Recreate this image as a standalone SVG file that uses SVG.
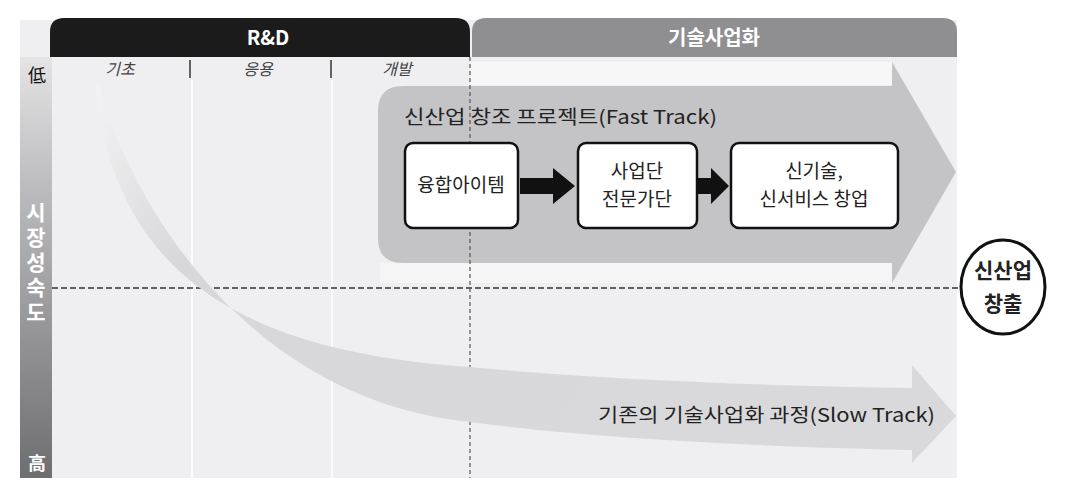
<svg xmlns="http://www.w3.org/2000/svg" width="1066" height="494" viewBox="0 0 1066 494">
<defs>
<style>
text{font-family:"Noto Sans CJK KR","Noto Sans",sans-serif;}
.hdr{fill:#fff;font-size:20px;font-weight:bold;text-anchor:middle;}
.col{fill:#444;font-size:16px;font-style:italic;text-anchor:middle;}
.axis{fill:#fff;font-size:21px;font-weight:bold;writing-mode:vertical-rl;letter-spacing:4px;}
.box{fill:#fff;stroke:#111;stroke-width:2.5;}
.btxt{fill:#222;font-size:19px;text-anchor:middle;}
.lbl{fill:#222;font-size:19px;}
.blk{fill:#111;}
</style>
<linearGradient id="axisG" x1="0" y1="0" x2="0" y2="1">
<stop offset="0" stop-color="#e4e4e5"/>
<stop offset="0.3" stop-color="#bdbdbf"/>
<stop offset="1" stop-color="#6e6e70"/>
</linearGradient>
<linearGradient id="slowG" gradientUnits="userSpaceOnUse" x1="95" y1="86" x2="600" y2="420">
<stop offset="0" stop-color="#f3f3f4"/>
<stop offset="0.28" stop-color="#d7d7d9"/>
<stop offset="1" stop-color="#d9d9db"/>
</linearGradient>
</defs>
<rect width="1066" height="494" fill="#fff"/>
<g id="panel">
<rect x="20" y="20" width="937" height="458" fill="#efeff1"/>
<rect x="20" y="57" width="32" height="421" fill="url(#axisG)"/>
<line x1="192" y1="80" x2="192" y2="478" stroke="#fff" stroke-width="1.5"/>
<line x1="332" y1="80" x2="332" y2="478" stroke="#fff" stroke-width="1.5"/>
<line x1="190" y1="60" x2="190" y2="78" stroke="#333" stroke-width="1.5"/>
<line x1="331" y1="60" x2="331" y2="78" stroke="#333" stroke-width="1.5"/>
</g>
<g id="header-rd">
<path d="M50,57 V32 Q50,18 64,18 H456 Q470,18 470,32 V57 Z" fill="#1b1b1b"/>
<text class="hdr" x="268" y="45">R&amp;D</text>
</g>
<g id="header-biz">
<path d="M472,57 V32 Q472,18 486,18 H943 Q957,18 957,32 V57 Z" fill="#8f8f91"/>
<text class="hdr" x="714" y="45">기술사업화</text>
</g>
<g id="stages">
<text class="col" x="120" y="75">기초</text>
<text class="col" x="258" y="75">응용</text>
<text class="col" x="397" y="75">개발</text>
</g>
<g id="axis">
<text x="37" y="82" font-size="18" fill="#111" text-anchor="middle">低</text>
<text class="axis" x="36" y="202">시장성숙도</text>
<text x="37" y="470" font-size="18" fill="#fff" font-weight="bold" text-anchor="middle">高</text>
</g>
<g id="fast-track">
<rect x="470" y="62" width="422" height="23" fill="#f7f7f8"/>
<rect x="380" y="263" width="512" height="20" fill="#f5f5f6"/>
<path d="M403,86 H892 V62 L956,172 L892,283 V263 H403 Q378,263 378,238 V111 Q378,86 403,86 Z" fill="#c4c4c6"/>
</g>
<g id="guides">
<line x1="52" y1="288" x2="960" y2="288" stroke="#333" stroke-width="1.5" stroke-dasharray="6,3"/>
<line x1="470" y1="57" x2="470" y2="478" stroke="#555" stroke-width="1.2" stroke-dasharray="4,3"/>
</g>
<g id="slow-track">
<path d="M95,86 C115,260 220,350 470,367 C600,380 800,387 912,388 L912,365 L956,416 L912,463 L912,450 C800,448 600,440 470,422 C255,400 135,215 99,86 Z" fill="url(#slowG)"/>
<text class="lbl" x="598" y="422" textLength="337" lengthAdjust="spacingAndGlyphs">기존의 기술사업화 과정(Slow Track)</text>
</g>
<text class="lbl" x="404" y="124" textLength="313" lengthAdjust="spacingAndGlyphs">신산업 창조 프로젝트(Fast Track)</text>
<g id="connectors">
<polygon class="blk" points="520,178 553,178 553,168 575,186 553,204 553,194 520,194"/>
<polygon class="blk" points="698,178 711,178 711,168 729,186 711,204 711,194 698,194"/>
</g>
<g id="node-idea">
<rect class="box" x="405" y="143" width="113" height="85" rx="8"/>
<text class="btxt" x="461" y="192">융합아이템</text>
</g>
<g id="node-expert">
<rect class="box" x="578" y="143" width="119" height="85" rx="8"/>
<text class="btxt" x="637" y="178">사업단</text>
<text class="btxt" x="637" y="206">전문가단</text>
</g>
<g id="node-startup">
<rect class="box" x="731" y="143" width="167" height="85" rx="8"/>
<text class="btxt" x="814" y="178">신기술,</text>
<text class="btxt" x="814" y="206">신서비스 창업</text>
</g>
<g id="node-result">
<ellipse cx="1003" cy="287" rx="42" ry="47" fill="#fff" stroke="#111" stroke-width="3"/>
<text x="1003" y="278" font-size="21" font-weight="bold" fill="#222" text-anchor="middle">신산업</text>
<text x="1003" y="311" font-size="21" font-weight="bold" fill="#222" text-anchor="middle">창출</text>
</g>
</svg>
